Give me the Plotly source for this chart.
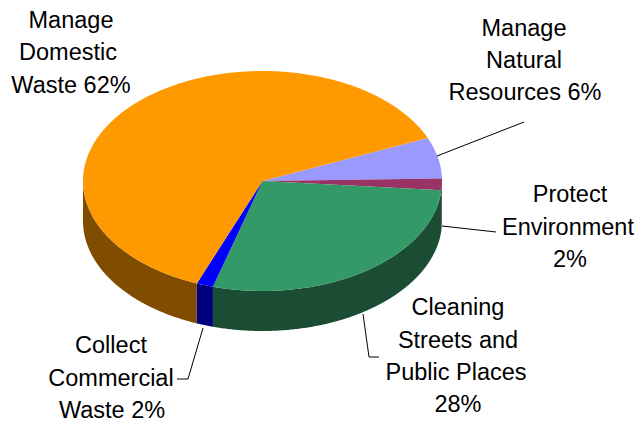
import numpy as np
import plotly.graph_objects as go

# Data (clockwise from the upper right)
categories = ["Manage Natural Resources", "Protect Environment",
              "Cleaning Streets and Public Places",
              "Collect Commercial Waste", "Manage Domestic Waste"]
values = [6, 1.7, 28, 1.5, 62.4]
top_colors = ["#9999FF", "#993366", "#339966", "#0000FF", "#FF9900"]
side_colors = ["#4D4D80", "#4D1A33", "#1A4D33", "#000080", "#804D00"]

label_lines = ["Manage", "Domestic", "Waste 62%",
               "Manage", "Natural", "Resources 6%",
               "Protect", "Environment", "2%",
               "Cleaning", "Streets and", "Public Places", "28%",
               "Collect", "Commercial", "Waste 2%"]
label_x = [71, 68, 71, 524, 524, 525, 570, 568, 570, 458, 458, 456, 458, 111, 111, 112]
label_y = [22, 54, 87, 30, 62, 94, 196, 229, 261, 309, 342, 374, 406, 347, 380, 412]

# Leader lines
leaders = [[(437, 156), (524, 122)],
           [(442, 226), (496, 232)],
           [(363, 314), (369, 357), (379, 357)],
           [(203, 328), (188, 379), (177, 379)]]

# Projection of the pie
CX, CY, RX, RY, DEPTH = 262.5, 181, 179.5, 110, 40
START_DEG = 23


def arc(a0, a1):
    n = max(int(abs(a1 - a0)) * 2, 2)
    t = np.radians(np.linspace(a0, a1, n))
    return CX + RX * np.cos(t), CY - RY * np.sin(t)


fig = go.Figure()
total = sum(values)
edges = [START_DEG]
for v in values:
    edges.append(edges[-1] - 360 * v / total)

# Side walls, visible only on the front half of the ellipse
for i, c in enumerate(categories):
    a0, a1 = edges[i], edges[i + 1]
    a0c, a1c = min(a0, 0), max(a1, -180)
    if a0c <= a1c:
        continue
    x, y = arc(a0c, a1c)
    fig.add_trace(go.Scatter(
        x=np.concatenate([x, x[::-1]]),
        y=np.concatenate([y, y[::-1] + DEPTH]),
        fill="toself", fillcolor=side_colors[i], mode="none",
        hoverinfo="skip", showlegend=False))

# Top faces
for i, c in enumerate(categories):
    x, y = arc(edges[i], edges[i + 1])
    fig.add_trace(go.Scatter(
        x=np.concatenate([[CX], x, [CX]]),
        y=np.concatenate([[CY], y, [CY]]),
        fill="toself", fillcolor=top_colors[i], mode="none",
        name=c, showlegend=False))

for pts in leaders:
    fig.add_trace(go.Scatter(x=[p[0] for p in pts], y=[p[1] for p in pts],
                             mode="lines", line=dict(color="#000000", width=1),
                             hoverinfo="skip", showlegend=False))

fig.add_trace(go.Scatter(x=label_x, y=label_y, mode="text", text=label_lines,
                         textposition="middle center",
                         textfont=dict(family="Liberation Sans", size=23.5, color="#000000"),
                         hoverinfo="skip", showlegend=False))

fig.update_layout(
    width=640, height=422, margin=dict(l=0, r=0, t=0, b=0),
    paper_bgcolor="#FFFFFF", plot_bgcolor="#FFFFFF",
    xaxis=dict(range=[0, 640], visible=False, fixedrange=True),
    yaxis=dict(range=[422, 0], visible=False, fixedrange=True),
)
fig.write_html("out.html", config={"displayModeBar": False},
               post_script="document.body.style.margin='0';document.documentElement.style.overflow='hidden';")
